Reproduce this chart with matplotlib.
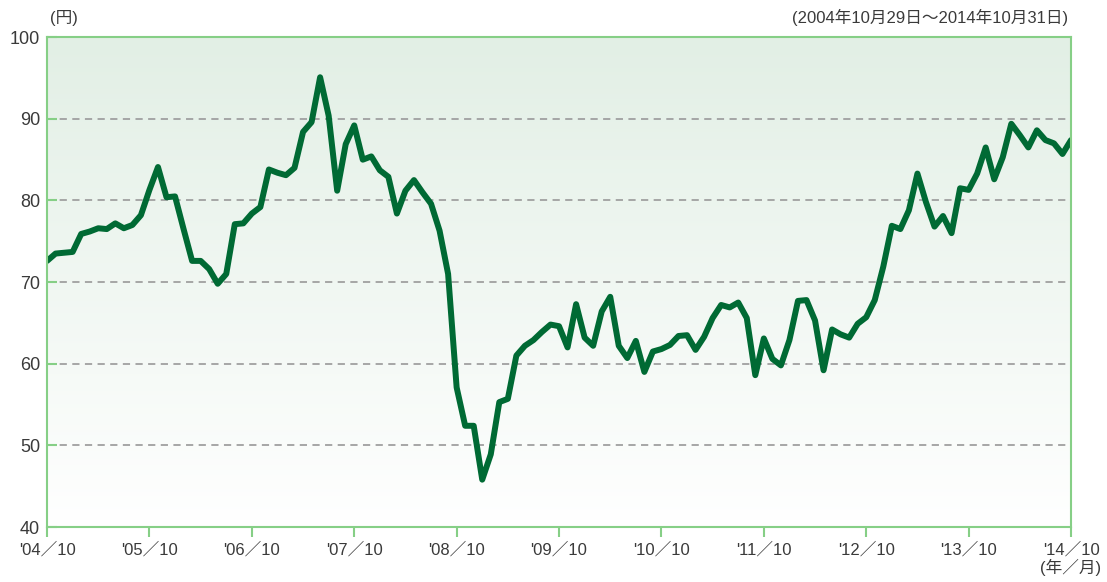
import numpy as np
import matplotlib
matplotlib.use("Agg")
import matplotlib.pyplot as plt
from matplotlib.colors import LinearSegmentedColormap

plt.rcParams['font.family'] = ['Liberation Sans', 'Noto Sans CJK JP', 'DejaVu Sans']

# monthly closing price (円), 2004/10 .. 2014/10
prices = [72.6, 73.5, 73.6, 73.7, 75.9, 76.2, 76.6, 76.5, 77.2, 76.6, 77.0, 78.2,
          81.3, 84.1, 80.4, 80.5, 76.5, 72.6, 72.6, 71.6, 69.8, 71.0, 77.1, 77.2,
          78.4, 79.2, 83.8, 83.4, 83.1, 84.0, 88.4, 89.6, 95.1, 90.4, 81.2, 86.9,
          89.2, 85.0, 85.4, 83.7, 82.9, 78.4, 81.2, 82.5, 81.0, 79.6, 76.3, 71.0,
          57.1, 52.4, 52.4, 45.8, 48.9, 55.3, 55.7, 61.0, 62.2, 62.9, 63.9, 64.8,
          64.6, 62.0, 67.3, 63.2, 62.2, 66.4, 68.2, 62.2, 60.7, 62.8, 59.0, 61.5,
          61.8, 62.3, 63.4, 63.5, 61.7, 63.3, 65.6, 67.2, 66.9, 67.5, 65.6, 58.6,
          63.1, 60.6, 59.8, 62.9, 67.7, 67.8, 65.3, 59.2, 64.2, 63.6, 63.2, 64.9,
          65.7, 67.8, 71.9, 76.9, 76.5, 78.8, 83.3, 79.8, 76.8, 78.1, 76.0, 81.5,
          81.3, 83.3, 86.5, 82.6, 85.3, 89.4, 88.0, 86.5, 88.6, 87.4, 87.0, 85.7,
          87.4]
tick_labels = ["'04／10", "'05／10", "'06／10", "'07／10", "'08／10", "'09／10",
               "'10／10", "'11／10", "'12／10", "'13／10", "'14／10"]
y_ticks = [40, 50, 60, 70, 80, 90, 100]

months = np.arange(len(prices))
green_edge = '#86cf86'
text_col = '#3a3a3a'

fig = plt.figure(figsize=(11.07, 5.82), dpi=100)
ax = fig.add_axes([0.0425, 0.0945, 0.925, 0.8415])

# background gradient: pale green at the top fading to white
cmap = LinearSegmentedColormap.from_list('bg', ['#ffffff', '#e2efe5'])
grad = np.linspace(0, 1, 256).reshape(-1, 1)
ax.imshow(grad, cmap=cmap, aspect='auto', origin='lower',
          extent=[0, len(prices) - 1, 40, 100], zorder=0)

for yv in y_ticks[1:-1]:
    ax.axhline(yv, color='#a0a0a0', lw=1.3, dashes=(4, 3), zorder=1)

ax.plot(months, prices, color='#006a34', lw=4.3, solid_joinstyle='round',
        solid_capstyle='round', zorder=3)

ax.set_xlim(0, len(prices) - 1)
ax.set_ylim(40, 100)
ax.set_xticks(months[::12])
ax.set_xticklabels(tick_labels)
ax.set_yticks(y_ticks)

for s in ax.spines.values():
    s.set_color(green_edge)
    s.set_linewidth(1.5)
    s.set_zorder(4)

ax.tick_params(axis='x', direction='out', length=7, width=1.5, color=green_edge,
               labelsize=12, labelcolor=text_col, pad=4)
ax.tick_params(axis='y', direction='in', length=7, width=1.5, color=green_edge,
               labelsize=13, labelcolor=text_col, pad=5)

fig.text(0.045, 0.955, '(円)', fontsize=12, color=text_col, ha='left', va='bottom')
fig.text(0.965, 0.955, '(2004年10月29日～2014年10月31日)', fontsize=12,
         color=text_col, ha='right', va='bottom')
fig.text(0.995, 0.01, '(年／月)', fontsize=12, color=text_col, ha='right', va='bottom')

fig.savefig('out.png', dpi=100)
